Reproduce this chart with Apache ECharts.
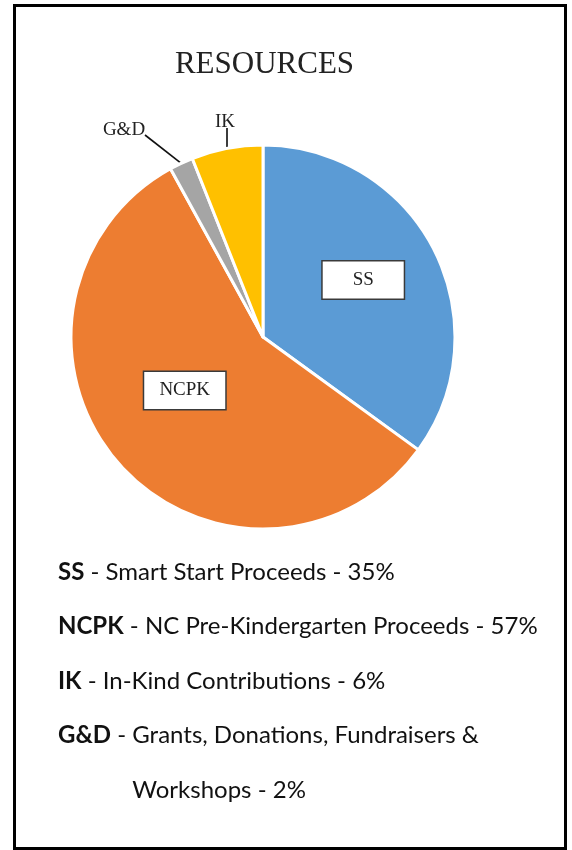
<!DOCTYPE html>
<html>
<head>
<meta charset="utf-8">
<script src="https://cdn.jsdelivr.net/npm/echarts@6/dist/echarts.min.js"></script>
<style>html,body{margin:0;padding:0;background:#fff}#c{width:572px;height:850px}</style>
</head>
<body>
<div id="c"></div>
<script>
// ---- data ----
const categories = ['SS', 'NCPK', 'G&D', 'IK'];
const values = [35, 57, 2, 6];
const fullNames = ['Smart Start Proceeds', 'NC Pre-Kindergarten Proceeds', 'Grants, Donations, Fundraisers &\nWorkshops', 'In-Kind Contributions'];
const legendOrder = ['SS', 'NCPK', 'IK', 'G&D'];
const titleText = 'RESOURCES';

// ---- style ----
const colors = ['#5B9BD5', '#ED7D31', '#A5A5A5', '#FFC000'];
const insideLabelIdx = [0, 1];
const CX = 263, CY = 337, R = 192;
const SERIF = 'Liberation Serif, Times New Roman, serif';
const SANS = 'Lato, sans-serif';
// label placement (style only): inside shifts, outside label centres & line starts relative to pie centre
const insideShift = { 0: [12, -12], 1: [-4, -12] };
const outsideAt = { 2: [-139, -207], 3: [-38, -215] };
const lineStart = { 2: [-118, -202], 3: [-36, -209] };

const total = values.reduce((a, b) => a + b, 0);
function midAngle(i) { // radians clockwise from 12 o'clock
  let before = 0; for (let k = 0; k < i; k++) before += values[k];
  return (before + values[i] / 2) / total * Math.PI * 2;
}

const chart = echarts.init(document.getElementById('c'), null, { renderer: 'canvas' });

const seriesData = categories.map((name, i) => {
  const inside = insideLabelIdx.includes(i);
  return {
    name, value: values[i],
    itemStyle: { color: colors[i] },
    label: inside ? {
      position: 'inside', formatter: '{b}', color: '#222',
      fontFamily: SERIF, fontSize: 19,
      backgroundColor: '#fff', borderColor: '#3a3a3a', borderWidth: 1.5,
      width: 81, height: 37, lineHeight: 37, align: 'center', padding: 0
    } : {
      position: 'outside', formatter: '{b}', color: '#222',
      fontFamily: SERIF, fontSize: 19
    },
    labelLine: inside ? { show: false } : { show: true, length: 15, length2: 0, lineStyle: { color: '#111', width: 1.6 } }
  };
});

// legend block built from the data arrays
const measureCtx = document.createElement('canvas').getContext('2d');
function textW(str, font) { measureCtx.font = font; return measureCtx.measureText(str).width; }
const LEG_X = 58, LEG_TOP = 545, LEG_LH = 54.5, LEG_FS = 24;
let lineNo = 0;
const legendTexts = legendOrder.map((name) => {
  const i = categories.indexOf(name);
  const parts = fullNames[i].split('\n');
  const indent = textW(name, 'bold ' + LEG_FS + 'px Lato') + textW(' - ', LEG_FS + 'px Lato');
  let s = '{b|' + name + '} - ' + parts[0];
  for (let p = 1; p < parts.length; p++) s += '\n{ind|}' + parts[p];
  s += ' - ' + values[i] + '%';
  const el = {
    type: 'text', x: LEG_X, y: LEG_TOP + lineNo * LEG_LH, silent: true,
    style: {
      text: s, fontFamily: SANS, fontSize: LEG_FS, fill: '#111', lineHeight: LEG_LH,
      verticalAlign: 'top', align: 'left',
      rich: {
        b: { fontFamily: SANS, fontSize: LEG_FS, fontWeight: 'bold', fill: '#111', lineHeight: LEG_LH },
        ind: { width: indent, lineHeight: LEG_LH }
      }
    }
  };
  lineNo += parts.length;
  return el;
});

const option = {
  backgroundColor: '#fff',
  animation: false,
  title: {
    text: titleText, left: CX - 3.5, top: 44, textAlign: 'center',
    textStyle: { fontFamily: SERIF, fontWeight: 'normal', fontSize: 31, color: '#222' }
  },
  graphic: [{
    type: 'rect', shape: { x: 14.5, y: 5.5, width: 551, height: 843 },
    style: { fill: 'none', stroke: '#000', lineWidth: 3 }, silent: true
  }].concat(legendTexts),
  series: [{
    type: 'pie', center: [CX, CY], radius: R, startAngle: 90, clockwise: true,
    avoidLabelOverlap: false, data: seriesData,
    itemStyle: { borderColor: '#fff', borderWidth: 3 },
    labelLayout: function (p) {
      const i = p.dataIndex;
      if (insideShift[i]) return { dx: insideShift[i][0], dy: insideShift[i][1] };
      if (outsideAt[i]) {
        const a = midAngle(i);
        const end = [CX + R * Math.sin(a), CY - R * Math.cos(a)];
        return {
          x: CX + outsideAt[i][0], y: CY + outsideAt[i][1], align: 'center', verticalAlign: 'middle',
          labelLinePoints: [[CX + lineStart[i][0], CY + lineStart[i][1]], end]
        };
      }
      return {};
    }
  }]
};
chart.setOption(option);
</script>
</body>
</html>
